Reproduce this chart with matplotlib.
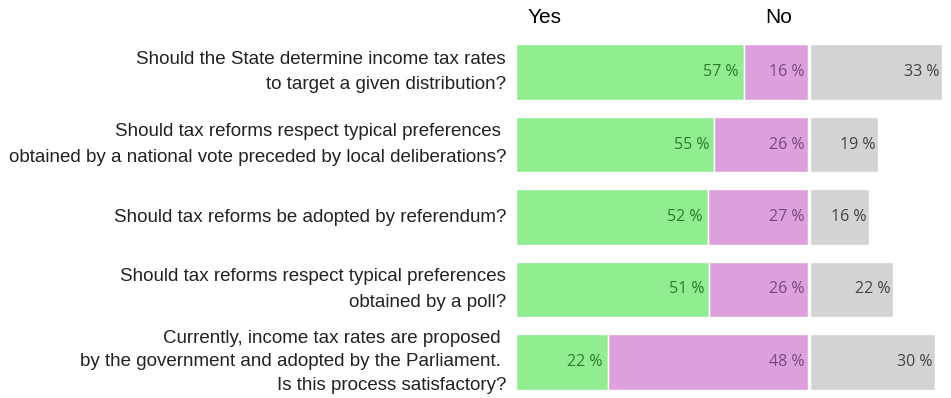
import numpy as np
import matplotlib.pyplot as plt

# survey questions (top to bottom)
questions = [
    "Should the State determine income tax rates\nto target a given distribution?",
    "Should tax reforms respect typical preferences \nobtained by a national vote preceded by local deliberations?",
    "Should tax reforms be adopted by referendum?",
    "Should tax reforms respect typical preferences\nobtained by a poll?",
    "Currently, income tax rates are proposed \nby the government and adopted by the Parliament. \nIs this process satisfactory?",
]
yes = np.array([57, 55, 52, 51, 22])
no = np.array([16, 26, 27, 26, 48])
other = np.array([33, 19, 16, 22, 30])

# yes/no share of expressed opinions, the rest drawn on the same scale
tot = yes + no
w_yes = yes / tot
w_no = no / tot
w_other = other / tot

c_yes, c_no, c_other = '#90ee90', '#dda0dd', '#d3d3d3'
t_yes, t_no, t_other = '#2f7a2f', '#7a4a7a', '#444444'

fig = plt.figure(figsize=(9.51, 3.98), dpi=100)
ax = fig.add_axes([516/951, 0, 435/951, 362/398])

y = np.arange(len(questions))
h = 0.77
ax.barh(y, w_yes, height=h, color=c_yes, edgecolor='white', linewidth=1)
ax.barh(y, w_no, left=w_yes, height=h, color=c_no, edgecolor='white', linewidth=1)
ax.barh(y, w_other, left=w_yes + w_no + 0.006, height=h, color=c_other,
        edgecolor='white', linewidth=1)

vfont = dict(family=['Open Sans', 'DejaVu Sans'], fontsize=11.5, va='center', ha='right')
for i in y:
    ax.text(w_yes[i] - 0.018, i, f"{yes[i]} %", color=t_yes, **vfont)
    ax.text(1 - 0.012, i, f"{no[i]} %", color=t_no, **vfont)
    ax.text(1 + 0.006 + w_other[i] - 0.008, i, f"{other[i]} %", color=t_other, **vfont)
    ls = 1.5 if questions[i].count('\n') > 1 else 1.65
    ax.text(-0.034, i, questions[i], ha='right', va='center', fontsize=13.5,
            family='Liberation Sans', color='#222222', linespacing=ls)

ax.text(0.04, -0.75, "Yes", fontsize=15, family='Liberation Sans', va='center', ha='left')
ax.text(0.855, -0.75, "No", fontsize=15, family='Liberation Sans', va='center', ha='left')

ax.set_xlim(0, 435/292)
ax.set_ylim(4.5, -0.5)
ax.axis('off')

fig.savefig('out.png', dpi=100)
